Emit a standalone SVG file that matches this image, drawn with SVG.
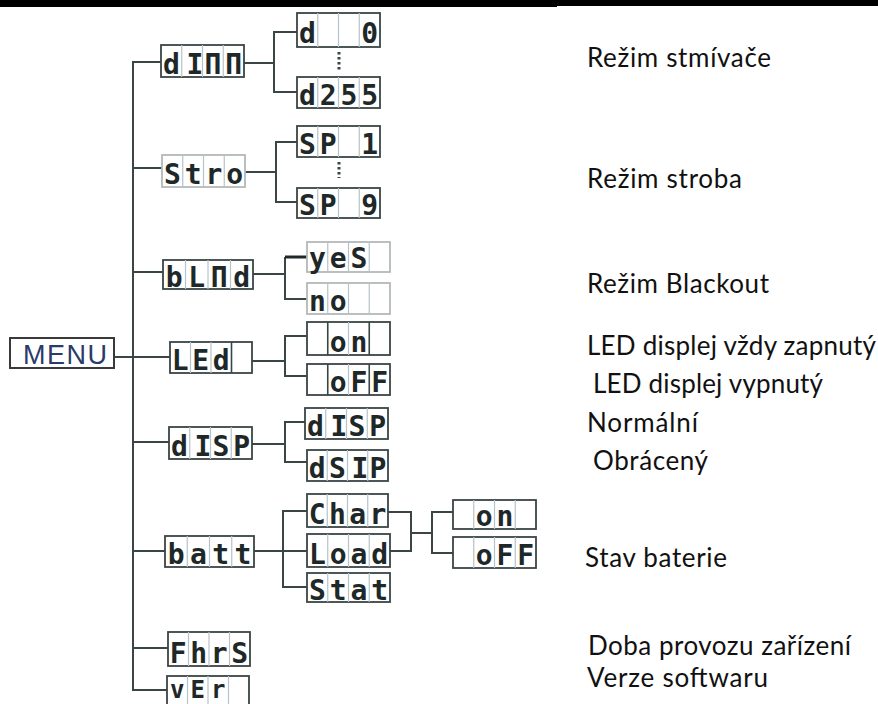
<svg xmlns="http://www.w3.org/2000/svg" width="878" height="704" viewBox="0 0 878 704">
<style>
.ln{stroke:#3a4545;stroke-width:2;fill:none}
.bx{fill:#fff;stroke:#3a4545;stroke-width:1.8}
.bxl{fill:#fff;stroke:#b3b8b8;stroke-width:1.8}
.dv{stroke:#b6c3c8;stroke-width:1.2}
.g{font-family:"DejaVu Sans Mono","Liberation Mono",monospace;font-weight:bold;font-size:28px;fill:#1e2828;text-anchor:middle}
.gs{font-size:24px}
.lb{font-family:Lato,"Open Sans",sans-serif;font-size:26px;fill:#111}
</style>
<rect x="0" y="0" width="557" height="7" fill="#000"/>
<rect x="557" y="0" width="321" height="6" fill="#000"/>

<g id="connectors">
<path class="ln" d="M161,62 H133 V690 H167"/>
<path class="ln" d="M133,168 H162 M133,272 H163 M114,357 H170 M133,442 H169 M133,551 H165 M133,648 H168"/>
<path class="ln" d="M244,63 H274 M297,32 H274 V92 H297"/>
<path class="ln" d="M245,172 H276 M297,142 H276 V202 H297"/>
<path class="ln" d="M253,274 H285 M285,257 V299 H307"/>
<path d="M285,257 H307" stroke="#1e2828" stroke-width="3"/>
<path class="ln" d="M252,361 H285 M307,336 H285 V376 H307"/>
<path class="ln" d="M252,444 H285 M305,422 H285 V462 H307"/>
<path class="ln" d="M254,551 H307 M307,511 H283 V587 H307"/>
<path class="ln" d="M388,512 H411 V551 H390 M411,533 H432 M453,512 H432 V553 H453"/>
<path d="M339,52 V71 M339,162 V178" stroke="#3a4545" stroke-width="3" stroke-dasharray="2.5 2.5"/>
</g>

<g id="menu">
<rect x="10" y="338" width="104" height="30" fill="#fff" stroke="#3a3a3a" stroke-width="2"/>
<text x="23" y="364" font-family="Liberation Sans, Arial, sans-serif" font-size="27" fill="#2b3a6b" textLength="84">MENU</text>
</g>

<g id="dimm" transform="translate(161,45)">
<rect class="bx" width="83" height="32"/>
<path class="dv" d="M20.75,0V32M41.5,0V32M62.25,0V32"/>
<text class="g" x="10.4" y="28.5">d</text><text class="g" x="34" y="28.5">I</text><text class="g" x="51.9" y="28.5">Π</text><text class="g" x="72.6" y="28.5">Π</text>
</g>
<g id="d0" transform="translate(297,13)">
<rect class="bx" width="83" height="34"/>
<path class="dv" d="M20.75,0V34M41.5,0V34M62.25,0V34"/>
<text class="g" x="10.4" y="30">d</text><text class="g" x="72.6" y="30">0</text>
</g>
<g id="d255" transform="translate(297,77)">
<rect class="bx" width="83" height="31"/>
<path class="dv" d="M20.75,0V31M41.5,0V31M62.25,0V31"/>
<text class="g" x="10.4" y="28">d</text><text class="g" x="31.1" y="28">2</text><text class="g" x="51.9" y="28">5</text><text class="g" x="72.6" y="28">5</text>
</g>

<g id="stro" transform="translate(162,155)">
<rect class="bxl" width="83" height="32"/>
<path class="dv" d="M20.75,0V32M41.5,0V32M62.25,0V32"/>
<text class="g" x="10.4" y="28.5">S</text><text class="g" x="31.1" y="28.5">t</text><text class="g" x="51.9" y="28.5">r</text><text class="g" x="72.6" y="28.5">o</text>
</g>
<g id="sp1" transform="translate(297,126)">
<rect class="bx" width="83" height="31"/>
<path class="dv" d="M20.75,0V31M41.5,0V31M62.25,0V31"/>
<text class="g" x="10.4" y="28">S</text><text class="g" x="31.1" y="28">P</text><text class="g" x="72.6" y="28">1</text>
</g>
<g id="sp9" transform="translate(297,188)">
<rect class="bx" width="83" height="30"/>
<path class="dv" d="M20.75,0V30M41.5,0V30M62.25,0V30"/>
<text class="g" x="10.4" y="27">S</text><text class="g" x="31.1" y="27">P</text><text class="g" x="72.6" y="27">9</text>
</g>

<g id="blnd" transform="translate(163,260)">
<rect class="bx" width="90" height="29"/>
<path class="dv" d="M22.5,0V29M45,0V29M67.5,0V29"/>
<text class="g" x="11.25" y="26.5">b</text><text class="g" x="33.75" y="26.5">L</text><text class="g" x="56.25" y="26.5">Π</text><text class="g" x="78.75" y="26.5">d</text>
</g>
<g id="yes" transform="translate(307,242)">
<rect class="bxl" width="83" height="30"/>
<path class="dv" d="M20.75,0V30M41.5,0V30M62.25,0V30"/>
<text class="g" x="10.4" y="26">y</text><text class="g" x="31.1" y="26">e</text><text class="g" x="51.9" y="26">S</text>
</g>
<g id="no" transform="translate(307,283)">
<rect class="bxl" width="83" height="31"/>
<path class="dv" d="M20.75,0V31M41.5,0V31M62.25,0V31"/>
<text class="g" x="10.4" y="28">n</text><text class="g" x="31.1" y="28">o</text>
</g>

<g id="led" transform="translate(170,342)">
<rect class="bx" width="82" height="31"/>
<path class="dv" d="M20.5,0V31M41,0V31"/>
<path d="M61.5,0V31" stroke="#3a4545" stroke-width="1.6"/>
<text class="g" x="10.25" y="28">L</text><text class="g" x="30.75" y="28">E</text><text class="g" x="51.25" y="28">d</text>
</g>
<g id="led-on" transform="translate(307,322)">
<rect class="bx" width="83" height="33"/>
<path d="M20.75,0V33M62.25,0V33" stroke="#3a4545" stroke-width="1.6"/>
<path class="dv" d="M41.5,0V33"/>
<text class="g" x="31.1" y="29.5">o</text><text class="g" x="51.9" y="29.5">n</text>
</g>
<g id="led-off" transform="translate(307,364)">
<rect class="bx" width="83" height="31"/>
<path d="M20.75,0V31M62.25,0V31" stroke="#3a4545" stroke-width="1.6"/>
<path class="dv" d="M41.5,0V31"/>
<text class="g" x="31.1" y="28">o</text><text class="g" x="51.9" y="28">F</text><text class="g" x="72.6" y="28">F</text>
</g>

<g id="disp" transform="translate(169,427)">
<rect class="bx" width="83" height="32"/>
<path class="dv" d="M20.75,0V32M41.5,0V32M62.25,0V32"/>
<text class="g" x="10.4" y="28.5">d</text><text class="g" x="34" y="28.5">I</text><text class="g" x="51.9" y="28.5">S</text><text class="g" x="72.6" y="28.5">P</text>
</g>
<g id="disp-normal" transform="translate(305,408)">
<rect class="bx" width="83" height="31"/>
<path class="dv" d="M20.75,0V31M41.5,0V31M62.25,0V31"/>
<text class="g" x="10.4" y="28">d</text><text class="g" x="34" y="28">I</text><text class="g" x="51.9" y="28">S</text><text class="g" x="72.6" y="28">P</text>
</g>
<g id="disp-inverse" transform="translate(307,450)">
<rect class="bx" width="81" height="31"/>
<path class="dv" d="M20.25,0V31M40.5,0V31M60.75,0V31"/>
<text class="g" x="10.1" y="28">d</text><text class="g" x="30.4" y="28">S</text><text class="g" x="53" y="28">I</text><text class="g" x="70.9" y="28">P</text>
</g>

<g id="batt" transform="translate(165,536)">
<rect class="bx" width="89" height="31"/>
<path class="dv" d="M22.25,0V31M44.5,0V31M66.75,0V31"/>
<text class="g" x="11.1" y="28">b</text><text class="g" x="33.4" y="28">a</text><text class="g" x="55.6" y="28">t</text><text class="g" x="77.9" y="28">t</text>
</g>
<g id="char" transform="translate(307,494)">
<rect class="bx" width="81" height="33"/>
<path class="dv" d="M20.25,0V33M40.5,0V33M60.75,0V33"/>
<text class="g" x="10.1" y="29.5">C</text><text class="g" x="30.4" y="29.5">h</text><text class="g" x="50.6" y="29.5">a</text><text class="g" x="70.9" y="29.5">r</text>
</g>
<g id="load" transform="translate(307,534)">
<rect class="bx" width="83" height="33"/>
<path class="dv" d="M20.75,0V33M41.5,0V33M62.25,0V33"/>
<text class="g" x="10.4" y="29.5">L</text><text class="g" x="31.1" y="29.5">o</text><text class="g" x="51.9" y="29.5">a</text><text class="g" x="72.6" y="29.5">d</text>
</g>
<g id="stat" transform="translate(307,573)">
<rect class="bx" width="83" height="29"/>
<path class="dv" d="M20.75,0V29M41.5,0V29M62.25,0V29"/>
<text class="g" x="10.4" y="26.5">S</text><text class="g" x="31.1" y="26.5">t</text><text class="g" x="51.9" y="26.5">a</text><text class="g" x="72.6" y="26.5">t</text>
</g>
<g id="batt-on" transform="translate(453,500)">
<rect class="bx" width="83" height="29"/>
<path class="dv" d="M20.75,0V29M41.5,0V29M62.25,0V29"/>
<text class="g" x="31.1" y="26">o</text><text class="g" x="51.9" y="26">n</text>
</g>
<g id="batt-off" transform="translate(453,537)">
<rect class="bx" width="83" height="31"/>
<path class="dv" d="M20.75,0V31M41.5,0V31M62.25,0V31"/>
<text class="g" x="31.1" y="28">o</text><text class="g" x="51.9" y="28">F</text><text class="g" x="72.6" y="28">F</text>
</g>

<g id="fhrs" transform="translate(168,632)">
<rect class="bx" width="82" height="34"/>
<path class="dv" d="M20.5,0V34M41,0V34M61.5,0V34"/>
<text class="g" x="10.25" y="30.5">F</text><text class="g" x="30.75" y="30.5">h</text><text class="g" x="51.25" y="30.5">r</text><text class="g" x="71.75" y="30.5">S</text>
</g>
<g id="ver" transform="translate(167,676)">
<rect class="bx" width="82" height="34"/>
<path class="dv" d="M20.5,0V34M41,0V34M61.5,0V34"/>
<text class="g gs" x="10.25" y="22">v</text><text class="g gs" x="30.75" y="22">E</text><text class="g gs" x="51.25" y="22">r</text>
</g>

<g id="labels">
<text class="lb" x="587" y="67" textLength="184">Režim stmívače</text>
<text class="lb" x="587" y="188" textLength="155">Režim stroba</text>
<text class="lb" x="587" y="293" textLength="182">Režim Blackout</text>
<text class="lb" x="587" y="355" textLength="289">LED displej vždy zapnutý</text>
<text class="lb" x="593" y="393" textLength="230">LED displej vypnutý</text>
<text class="lb" x="587" y="432" textLength="111">Normální</text>
<text class="lb" x="593" y="470" textLength="115">Obrácený</text>
<text class="lb" x="585" y="567" textLength="142">Stav baterie</text>
<text class="lb" x="588" y="655" textLength="263">Doba provozu zařízení</text>
<text class="lb" x="587" y="687" textLength="181">Verze softwaru</text>
</g>
</svg>
